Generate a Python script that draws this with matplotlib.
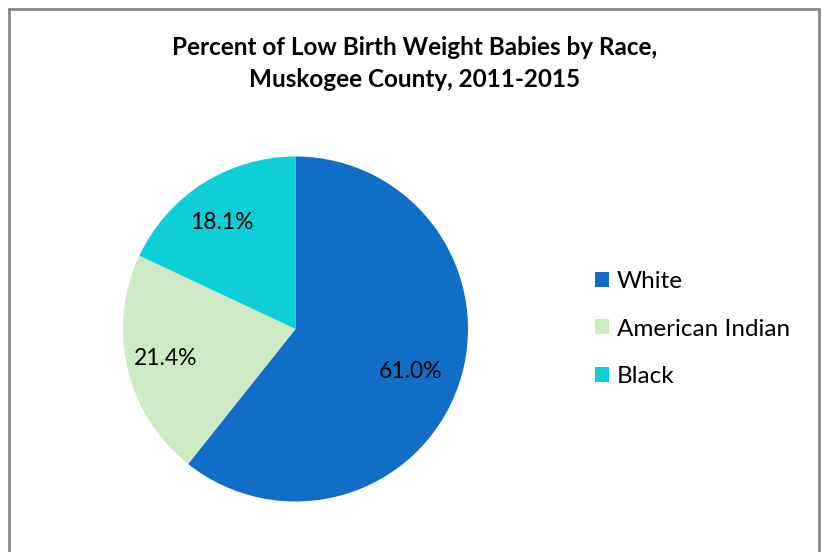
import matplotlib
matplotlib.use("Agg")
import matplotlib.pyplot as plt
from matplotlib.patches import Rectangle
import numpy as np

categories = ["White", "American Indian", "Black"]
values = [61.0, 21.4, 18.1]
labels = ["61.0%", "21.4%", "18.1%"]
colors = ["#106EC6", "#CDEAC4", "#0CCFD8"]
title = "Percent of Low Birth Weight Babies by Race,\nMuskogee County, 2011-2015"

W, H = 823, 552
fig = plt.figure(figsize=(W / 100, H / 100), dpi=100)
plt.rcParams['font.family'] = ['Lato', 'DejaVu Sans']

# border
fig.patches.append(Rectangle((9 / W, -0.05), (819 - 9) / W, (H - 9) / H + 0.05,
                             transform=fig.transFigure, fill=False,
                             edgecolor="#898989", linewidth=2))

cx, cy, r = 295.5, 329, 172.5
ax = fig.add_axes([(cx - r) / W, (H - cy - r) / H, 2 * r / W, 2 * r / H])
wedges, _ = ax.pie(values, colors=colors, startangle=90, counterclock=False,
                   radius=1, wedgeprops=dict(linewidth=0))
tot = sum(values)
ang = 90.0
for v, lab in zip(values, labels):
    span = v / tot * 360
    mid = np.deg2rad(ang - span / 2)
    ang -= span
    ax.text(0.74 * np.cos(mid) - 0.03, 0.74 * np.sin(mid) - 0.005, lab,
            ha="center", va="center", fontsize=16.5, color="#000000")
ax.set_xlim(-1, 1)
ax.set_ylim(-1, 1)
ax.set_aspect("equal")
ax.axis("off")

fig.text(415 / W, 1 - 63.5 / H, title, ha="center", va="center", fontsize=17.5,
         fontweight="bold", linespacing=1.5)

leg = fig.legend(wedges, categories, loc="center left",
                 bbox_to_anchor=(595 / W, 1 - 329 / H), frameon=False,
                 fontsize=17.5, handlelength=0.58, handleheight=0.58,
                 handletextpad=0.33, labelspacing=1.1, borderpad=0,
                 borderaxespad=0)

fig.savefig("out.png", dpi=100)
